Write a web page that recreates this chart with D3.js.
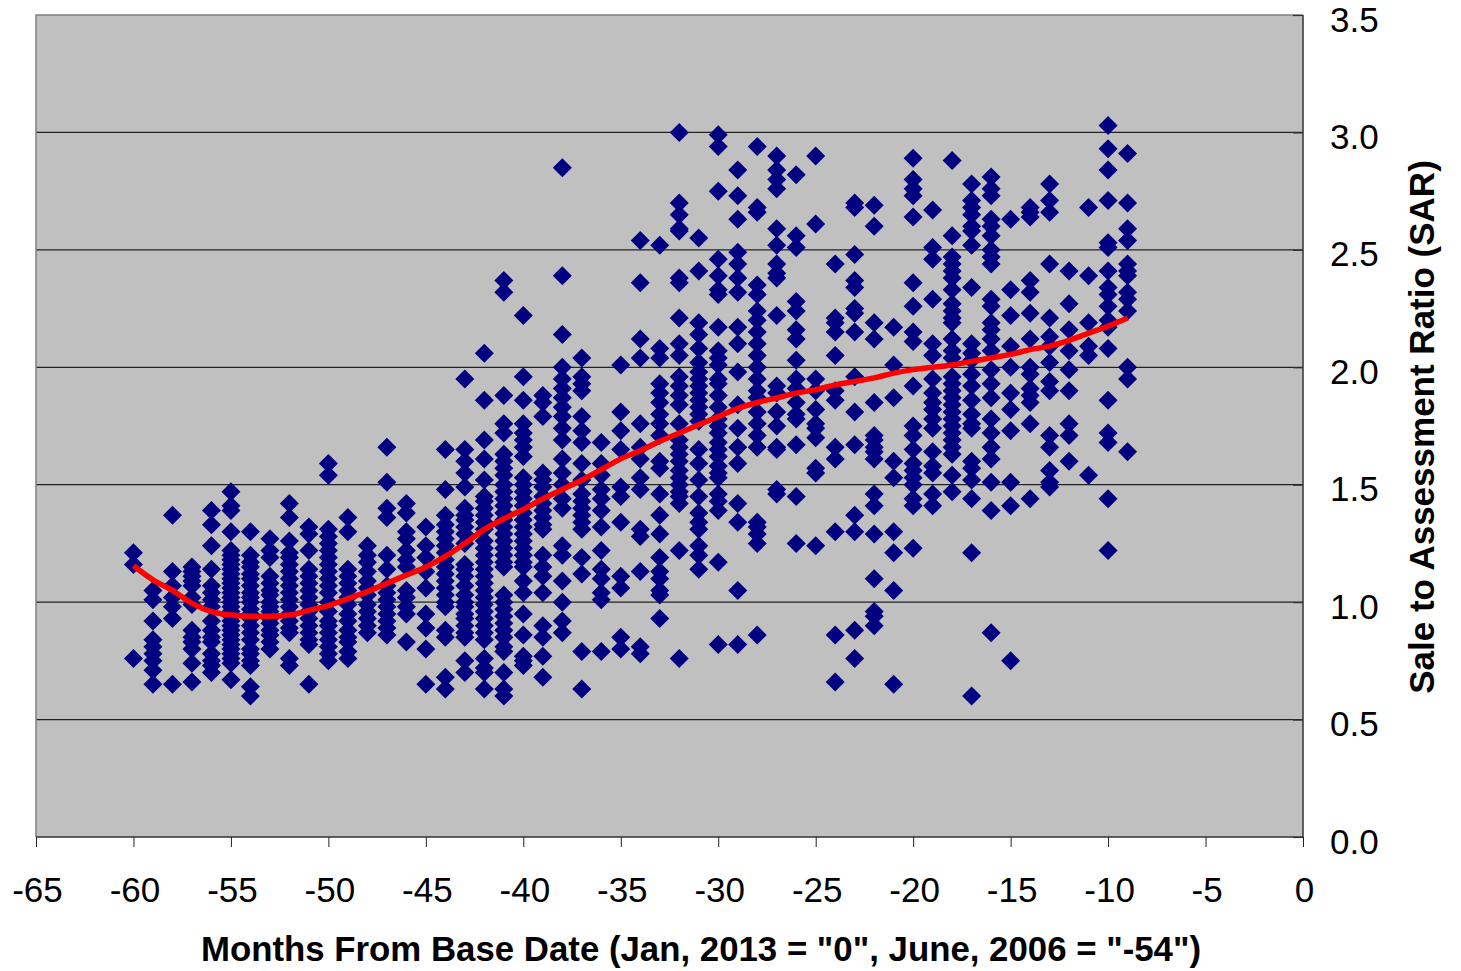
<!DOCTYPE html>
<html>
<head>
<meta charset="utf-8">
<script src="https://cdn.jsdelivr.net/npm/d3@7"></script>
<style>
html, body { margin: 0; padding: 0; background: #fff; }
svg { display: block; }
text { font-family: "Liberation Sans", Arial, sans-serif; fill: #000; }
</style>
</head>
<body>
<div id="chart"></div>
<script>
var xTicks = [-65, -60, -55, -50, -45, -40, -35, -30, -25, -20, -15, -10, -5, 0];
var yTicks = [0, 0.5, 1, 1.5, 2, 2.5, 3, 3.5];

var months = [-60, -59, -58, -57, -56, -55, -54, -53, -52, -51, -50, -49, -48, -47, -46, -45, -44,
    -43, -42, -41, -40, -39, -38, -37, -36, -35, -34, -33, -32, -31, -30, -29, -28, -27, -26,
    -25, -24, -23, -22, -21, -20, -19, -18, -17, -16, -15, -14, -13, -12, -11, -10, -9];

// SAR readings per month, same order as months
var sarByMonth = [
    [1.21, 1.16, 0.76],
    [1.05, 1.01, 0.92, 0.84, 0.81, 0.78, 0.75, 0.71, 0.65],
    [1.37, 1.13, 1.07, 1.02, 0.98, 0.93, 0.65],
    [1.15, 1.13, 1.11, 1.09, 1.07, 1.02, 0.99, 0.88, 0.85, 0.83, 0.8, 0.74, 0.66],
    [1.39, 1.33, 1.24, 1.14, 1.07, 1.04, 1.01, 0.98, 0.92, 0.88, 0.85, 0.83, 0.78, 0.75, 0.73, 0.7],
    [1.47, 1.41, 1.39, 1.3, 1.22, 1.2, 1.18, 1.16, 1.14, 1.12, 1.1, 1.08, 1.06, 1.04, 1.02, 1, 0.98, 0.96, 0.94, 0.92, 0.9, 0.88, 0.86, 0.84, 0.82, 0.8, 0.78, 0.76, 0.74, 0.67],
    [1.3, 1.2, 1.17, 1.15, 1.12, 1.1, 1.07, 1.04, 1.02, 1, 0.97, 0.95, 0.93, 0.9, 0.87, 0.84, 0.8, 0.78, 0.75, 0.73, 0.64, 0.6],
    [1.27, 1.22, 1.19, 1.11, 1.08, 1.05, 1.03, 1, 0.98, 0.96, 0.93, 0.91, 0.88, 0.86, 0.83, 0.8],
    [1.42, 1.36, 1.26, 1.21, 1.19, 1.16, 1.13, 1.1, 1.07, 1.04, 1.01, 0.98, 0.95, 0.92, 0.89, 0.87, 0.76, 0.73],
    [1.32, 1.29, 1.22, 1.14, 1.11, 1.08, 1.05, 1.02, 0.99, 0.96, 0.93, 0.9, 0.87, 0.84, 0.82, 0.65],
    [1.59, 1.54, 1.31, 1.28, 1.25, 1.22, 1.19, 1.16, 1.13, 1.1, 1.07, 1.04, 1, 0.96, 0.92, 0.9, 0.87, 0.84, 0.81, 0.78, 0.75],
    [1.36, 1.3, 1.14, 1.11, 1.08, 1.05, 1.02, 0.99, 0.95, 0.92, 0.88, 0.85, 0.83, 0.79, 0.76],
    [1.24, 1.2, 1.17, 1.13, 1.09, 1.06, 1.03, 0.99, 0.96, 0.93, 0.9, 0.87],
    [1.66, 1.51, 1.4, 1.36, 1.2, 1.14, 1.07, 1.04, 1.01, 0.98, 0.95, 0.92, 0.89, 0.86],
    [1.42, 1.38, 1.3, 1.27, 1.22, 1.18, 1.15, 1.05, 1.02, 0.98, 0.95, 0.83],
    [1.32, 1.24, 1.19, 1.13, 1.06, 0.95, 0.89, 0.8, 0.65],
    [1.65, 1.48, 1.37, 1.33, 1.3, 1.27, 1.24, 1.21, 1.18, 1.15, 1.12, 1.09, 1.06, 1.03, 1, 0.98, 0.88, 0.85, 0.68, 0.63],
    [1.95, 1.65, 1.6, 1.55, 1.49, 1.4, 1.37, 1.35, 1.32, 1.29, 1.25, 1.16, 1.14, 1.11, 1.07, 1.03, 1, 0.98, 0.95, 0.93, 0.9, 0.87, 0.85, 0.75, 0.7],
    [2.06, 1.86, 1.69, 1.61, 1.52, 1.45, 1.43, 1.4, 1.37, 1.34, 1.31, 1.26, 1.23, 1.2, 1.17, 1.14, 1.11, 1.08, 1.05, 1.02, 0.99, 0.96, 0.93, 0.9, 0.87, 0.84, 0.76, 0.72, 0.7, 0.63],
    [2.37, 2.32, 1.88, 1.76, 1.72, 1.63, 1.6, 1.57, 1.54, 1.5, 1.47, 1.44, 1.41, 1.38, 1.35, 1.32, 1.29, 1.26, 1.23, 1.2, 1.17, 1.15, 1.03, 1, 0.97, 0.94, 0.91, 0.88, 0.85, 0.81, 0.79, 0.7, 0.63, 0.6],
    [2.22, 1.96, 1.86, 1.76, 1.72, 1.69, 1.66, 1.62, 1.53, 1.5, 1.47, 1.44, 1.41, 1.38, 1.35, 1.32, 1.29, 1.26, 1.23, 1.2, 1.17, 1.15, 1.09, 1.04, 0.95, 0.86, 0.77, 0.75, 0.73],
    [1.88, 1.85, 1.79, 1.55, 1.52, 1.49, 1.45, 1.42, 1.39, 1.36, 1.33, 1.31, 1.2, 1.15, 1.11, 1.04, 0.9, 0.85, 0.77, 0.68],
    [2.85, 2.39, 2.14, 2, 1.95, 1.91, 1.87, 1.83, 1.79, 1.74, 1.69, 1.61, 1.55, 1.5, 1.44, 1.4, 1.24, 1.2, 1.09, 1, 0.92, 0.87],
    [2.04, 1.96, 1.93, 1.9, 1.79, 1.73, 1.68, 1.59, 1.52, 1.46, 1.43, 1.4, 1.37, 1.34, 1.31, 1.19, 1.12, 0.79, 0.63],
    [1.68, 1.59, 1.54, 1.48, 1.44, 1.39, 1.32, 1.22, 1.14, 1.1, 1.04, 1.01, 0.79],
    [2.01, 1.81, 1.73, 1.65, 1.49, 1.45, 1.34, 1.11, 1.06, 0.85, 0.8],
    [2.54, 2.36, 2.12, 2.04, 1.76, 1.66, 1.61, 1.53, 1.48, 1.31, 1.28, 1.13, 0.81, 0.78],
    [2.52, 2.08, 2.04, 1.93, 1.89, 1.85, 1.8, 1.76, 1.71, 1.6, 1.57, 1.46, 1.37, 1.29, 1.19, 1.13, 1.1, 1.05, 1.03, 0.93],
    [3, 2.7, 2.65, 2.59, 2.58, 2.38, 2.36, 2.21, 2.1, 2.05, 1.96, 1.92, 1.88, 1.84, 1.76, 1.69, 1.66, 1.63, 1.6, 1.56, 1.53, 1.5, 1.47, 1.45, 1.42, 1.22, 0.76],
    [2.55, 2.41, 2.19, 2.14, 2.08, 2.02, 1.98, 1.95, 1.92, 1.89, 1.86, 1.83, 1.8, 1.77, 1.65, 1.59, 1.52, 1.45, 1.38, 1.34, 1.31, 1.24, 1.2, 1.14],
    [2.99, 2.94, 2.75, 2.46, 2.39, 2.33, 2.31, 2.17, 2.07, 2.04, 2.01, 1.95, 1.93, 1.88, 1.83, 1.78, 1.75, 1.72, 1.68, 1.65, 1.62, 1.58, 1.55, 1.53, 1.46, 1.43, 1.39, 1.17, 0.82],
    [2.84, 2.73, 2.63, 2.49, 2.44, 2.38, 2.32, 2.17, 2.1, 1.98, 1.84, 1.74, 1.66, 1.59, 1.42, 1.34, 1.05, 0.82],
    [2.94, 2.68, 2.66, 2.35, 2.31, 2.24, 2.2, 2.15, 2.1, 2.05, 2, 1.95, 1.9, 1.87, 1.81, 1.76, 1.71, 1.66, 1.34, 1.32, 1.29, 1.25, 0.86],
    [2.9, 2.84, 2.8, 2.76, 2.59, 2.52, 2.44, 2.4, 2.38, 2.22, 1.92, 1.89, 1.81, 1.75, 1.66, 1.65, 1.48, 1.46],
    [2.82, 2.56, 2.51, 2.28, 2.24, 2.16, 2.12, 2.03, 1.95, 1.91, 1.85, 1.8, 1.78, 1.67, 1.45, 1.25],
    [2.9, 2.61, 1.95, 1.9, 1.82, 1.76, 1.74, 1.7, 1.57, 1.55, 1.24],
    [2.44, 2.21, 2.19, 2.15, 2.05, 1.9, 1.86, 1.66, 1.61, 1.3, 0.86, 0.66],
    [2.7, 2.68, 2.48, 2.37, 2.34, 2.25, 2.23, 2.15, 1.96, 1.81, 1.67, 1.37, 1.3, 0.88, 0.76],
    [2.69, 2.6, 2.19, 2.12, 1.85, 1.71, 1.69, 1.66, 1.64, 1.61, 1.46, 1.41, 1.29, 1.1, 0.96, 0.94, 0.9],
    [2.17, 2.01, 1.87, 1.6, 1.53, 1.3, 1.21, 1.05, 0.65],
    [2.89, 2.8, 2.76, 2.73, 2.64, 2.36, 2.26, 2.15, 2.11, 1.92, 1.75, 1.71, 1.65, 1.59, 1.56, 1.53, 1.5, 1.44, 1.41, 1.23],
    [2.67, 2.51, 2.46, 2.29, 2.1, 2.05, 1.95, 1.89, 1.85, 1.82, 1.78, 1.74, 1.64, 1.58, 1.55, 1.46, 1.41],
    [2.88, 2.56, 2.47, 2.44, 2.41, 2.38, 2.33, 2.27, 2.24, 2.21, 2.19, 2.12, 2.07, 2.04, 1.96, 1.93, 1.9, 1.87, 1.84, 1.81, 1.78, 1.75, 1.72, 1.69, 1.66, 1.63, 1.54, 1.47],
    [2.78, 2.71, 2.68, 2.65, 2.6, 2.58, 2.52, 2.34, 2.1, 2.06, 2.03, 1.97, 1.92, 1.86, 1.8, 1.76, 1.74, 1.6, 1.57, 1.52, 1.44, 1.21, 0.6],
    [2.81, 2.76, 2.73, 2.63, 2.6, 2.56, 2.5, 2.47, 2.44, 2.29, 2.26, 2.19, 2.16, 2.12, 2.07, 1.99, 1.93, 1.87, 1.78, 1.72, 1.66, 1.61, 1.51, 1.39, 0.87],
    [2.63, 2.33, 2.22, 2.09, 2, 1.89, 1.82, 1.73, 1.51, 1.41, 0.75],
    [2.68, 2.66, 2.64, 2.37, 2.32, 2.23, 2.12, 2, 1.97, 1.91, 1.88, 1.85, 1.76, 1.44],
    [2.78, 2.71, 2.66, 2.44, 2.21, 2.13, 2.09, 2.02, 1.94, 1.9, 1.71, 1.66, 1.56, 1.51, 1.49],
    [2.41, 2.27, 2.16, 2.07, 1.99, 1.9, 1.76, 1.71, 1.6],
    [2.68, 2.39, 2.19, 2.09, 2.05, 1.54],
    [3.03, 2.93, 2.84, 2.71, 2.53, 2.51, 2.41, 2.34, 2.31, 2.26, 2.2, 2.17, 2.08, 1.86, 1.72, 1.68, 1.44, 1.22],
    [2.91, 2.7, 2.59, 2.54, 2.44, 2.41, 2.39, 2.32, 2.29, 2.24, 2, 1.95, 1.64]
];

// fitted curve, one reading per month
var trendSar = [1.155, 1.095, 1.05, 0.995, 0.96, 0.945, 0.94, 0.94, 0.945, 0.965, 0.985, 1.015, 1.045, 1.08, 1.115, 1.15, 1.195,
    1.25, 1.31, 1.355, 1.395, 1.44, 1.48, 1.52, 1.565, 1.61, 1.645, 1.685, 1.72, 1.755, 1.79, 1.825, 1.85, 1.87, 1.89,
    1.905, 1.925, 1.94, 1.955, 1.975, 1.99, 2, 2.01, 2.025, 2.04, 2.055, 2.075, 2.09, 2.115, 2.145, 2.175, 2.21];

var width = 1461, height = 971;
var left = 36, right = 1303, top_ = 15, bottom = 837;

var svg = d3.select('#chart').append('svg')
    .attr('width', width)
    .attr('height', height);

var xScale = d3.scaleLinear().domain([-65, 0]).range([left, right]);
var yScale = d3.scaleLinear().domain([0, 3.5]).range([bottom, top_]);

svg.append('rect')
    .attr('x', left)
    .attr('y', top_)
    .attr('width', right - left)
    .attr('height', bottom - top_)
    .style('fill', '#c0c0c0');

// gridlines
svg.selectAll('.grid')
    .data(yTicks.filter(function (d) { return d > 0 && d < 3.5; }))
    .enter()
    .append('line')
    .attr('class', 'grid')
    .attr('x1', left)
    .attr('x2', right)
    .attr('y1', function (d) { return yScale(d); })
    .attr('y2', function (d) { return yScale(d); })
    .style('stroke', '#222')
    .style('stroke-width', 1.2);

// plot border
svg.append('path')
    .attr('d', 'M' + left + ',' + bottom + 'V' + top_ + 'H' + right)
    .style('fill', 'none')
    .style('stroke', '#808080')
    .style('stroke-width', 1.5);
svg.append('path')
    .attr('d', 'M' + left + ',' + bottom + 'H' + right + 'V' + top_)
    .style('fill', 'none')
    .style('stroke', '#333')
    .style('stroke-width', 1.5);

var xAxis = d3.axisBottom(xScale)
    .tickValues(xTicks)
    .tickSize(10)
    .tickPadding(30)
    .tickFormat(function (d) { return String(d); });
var gx = svg.append('g')
    .attr('transform', 'translate(0,' + bottom + ')')
    .call(xAxis);
gx.select('.domain').remove();
gx.selectAll('line').style('stroke', '#222').style('stroke-width', 1);
gx.selectAll('text')
    .style('font-size', '35px')
    .attr('dx', 1);

var yAxis = d3.axisRight(yScale)
    .tickValues(yTicks)
    .tickSize(-10)
    .tickPadding(27)
    .tickFormat(d3.format('.1f'));
var gy = svg.append('g')
    .attr('transform', 'translate(' + right + ',0)')
    .call(yAxis);
gy.select('.domain').remove();
gy.selectAll('line').style('stroke', '#333').style('stroke-width', 1.2);
gy.selectAll('text')
    .style('font-size', '35px')
    .attr('dy', '0.46em');

// scatter, one group per month
var r = 9.5;
var points = [];
months.forEach(function (m, i) {
    sarByMonth[i].forEach(function (v) {
        points.push({ month: m, sar: v });
    });
});
svg.selectAll('.pt')
    .data(points)
    .enter()
    .append('path')
    .attr('class', 'pt')
    .attr('d', 'M0,' + (-r) + 'L' + r + ',0L0,' + r + 'L' + (-r) + ',0Z')
    .attr('transform', function (d) {
        return 'translate(' + xScale(d.month) + ',' + yScale(d.sar) + ')';
    })
    .style('fill', '#000080');

// red curve
var trendLine = d3.line()
    .x(function (d, i) { return xScale(months[i]); })
    .y(function (d) { return yScale(d); })
    .curve(d3.curveMonotoneX);
svg.append('path')
    .datum(trendSar)
    .attr('d', trendLine)
    .style('fill', 'none')
    .style('stroke', '#ff0000')
    .style('stroke-width', 5.5);

svg.append('text')
    .attr('x', 701)
    .attr('y', 961)
    .attr('text-anchor', 'middle')
    .style('font-size', '34.8px')
    .style('font-weight', 'bold')
    .text('Months From Base Date (Jan, 2013 = "0", June, 2006 = "-54")');

svg.append('text')
    .attr('transform', 'translate(1434,427) rotate(-90)')
    .attr('text-anchor', 'middle')
    .style('font-size', '35px')
    .style('font-weight', 'bold')
    .text('Sale to Assessment Ratio (SAR)');
</script>
</body>
</html>
